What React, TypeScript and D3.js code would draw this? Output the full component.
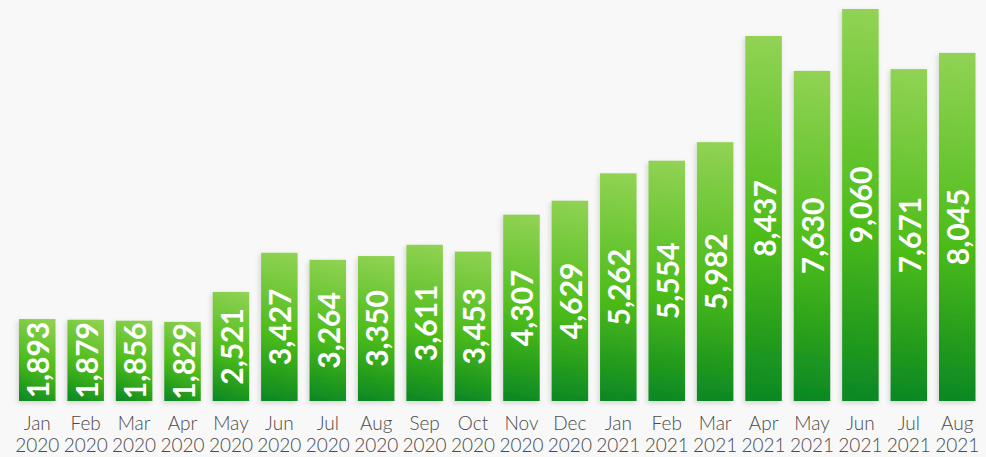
import React from "react";
import * as d3 from "d3";

const months = ["Jan","Feb","Mar","Apr","May","Jun","Jul","Aug","Sep","Oct","Nov","Dec","Jan","Feb","Mar","Apr","May","Jun","Jul","Aug"];
const years = ["2020","2020","2020","2020","2020","2020","2020","2020","2020","2020","2020","2020","2021","2021","2021","2021","2021","2021","2021","2021"];
const values = [1893,1879,1856,1829,2521,3427,3264,3350,3611,3453,4307,4629,5262,5554,5982,8437,7630,9060,7671,8045];

const W = 986, H = 457;

export default function App() {
  const idx = values.map((_, i) => String(i));
  const x = d3.scaleBand<string>().domain(idx).range([19, 975.5]).paddingInner(0.246).paddingOuter(0);
  const y = d3.scaleLinear().domain([0, 9060]).range([401, 9]);
  const fmt = d3.format(",");
  return (
    <svg width={W} height={H} style={{ position: "absolute", left: 0, top: 0 }}>
      <defs>
        {values.map((v, i) => {
          const bx = x(String(i))!;
          const bw = x.bandwidth();
          return (
            <linearGradient key={i} id={`g${i}`} gradientUnits="userSpaceOnUse"
              x1={bx + bw} y1={y(v)} x2={bx} y2={y(0)}>
              <stop offset="0" stopColor="#92d355" />
              <stop offset="0.55" stopColor="#4dbc19" />
              <stop offset="1" stopColor="#0a8722" />
            </linearGradient>
          );
        })}
        <filter id="sh" x="-30%" y="-10%" width="160%" height="130%">
          <feDropShadow dx="-1.5" dy="2" stdDeviation="2.5" floodColor="#000" floodOpacity="0.15" />
        </filter>
      </defs>
      <rect width={W} height={H} fill="#f8f8f8" />
      {values.map((v, i) => {
        const bx = x(String(i))!;
        const bw = x.bandwidth();
        const top = y(v);
        const bot = y(0);
        const cx = bx + bw / 2;
        const cy = (top + bot) / 2;
        return (
          <g key={i}>
            <rect x={bx} y={top} width={bw} height={bot - top} fill={`url(#g${i})`} filter="url(#sh)" />
            <text
              transform={`translate(${cx},${cy}) rotate(-90)`}
              textAnchor="middle"
              dominantBaseline="central"
              fill="#fff"
              fontFamily="Lato, sans-serif"
              fontWeight="bold"
              fontSize={30}
            >
              {fmt(v)}
            </text>
            <text x={cx} y={430} textAnchor="middle" fill="#4a4a4a" fontFamily="Lato, sans-serif" fontWeight={300} fontSize={19}>
              {months[i]}
            </text>
            <text x={cx} y={451.5} textAnchor="middle" fill="#4a4a4a" fontFamily="Lato, sans-serif" fontWeight={300} fontSize={19}>
              {years[i]}
            </text>
          </g>
        );
      })}
    </svg>
  );
}
